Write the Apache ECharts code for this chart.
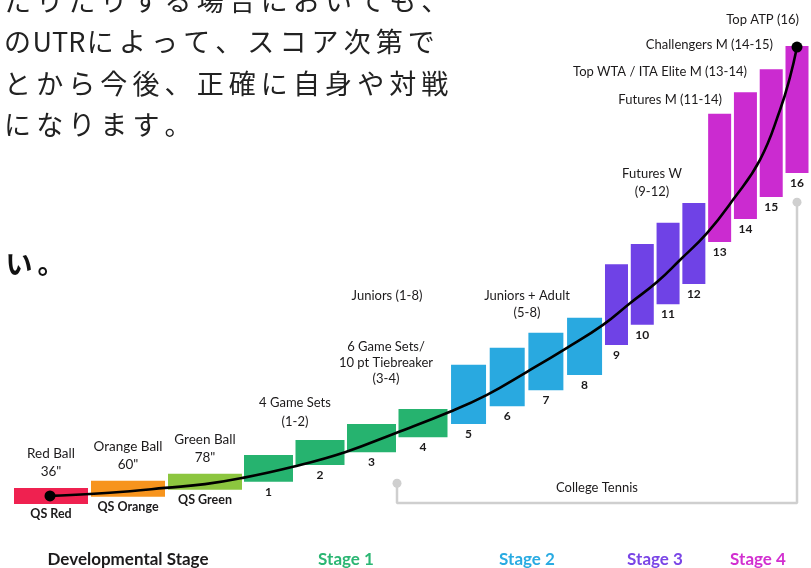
<!DOCTYPE html>
<html><head><meta charset="utf-8">
<script src="https://cdn.jsdelivr.net/npm/echarts@6/dist/echarts.min.js"></script>
<style>html,body{margin:0;padding:0;background:#fff}#c{width:811px;height:568px}</style>
</head><body><div id="c"></div>
<script>
// ---------- data ----------
const qsLevels = ['QS Red', 'QS Orange', 'QS Green'];
const qsBallNames = ['Red Ball\n36"', 'Orange Ball\n60"', 'Green Ball\n78"'];
const qsLow = [1.3, 2.8, 4.3];
const qsHigh = [4.7, 6.2, 7.7];

const stage1Levels = ['1', '2', '3', '4'];
const stage1Low = [6.0, 9.6, 12.3, 15.5];
const stage1High = [11.7, 14.9, 18.3, 21.5];

const stage2Levels = ['5', '6', '7', '8'];
const stage2Low = [18.3, 22.1, 25.5, 28.7];
const stage2High = [30.9, 34.5, 37.7, 40.9];

const stage34Levels = ['9', '10', '11', '12', '13', '14', '15', '16'];
const stage34Low = [35.1, 39.4, 43.8, 48.1, 57.0, 61.9, 66.6, 71.7];
const stage34High = [52.3, 56.6, 61.1, 65.3, 84.3, 88.9, 93.8, 98.7];

// progression curve (position along the strip, level)
const curvePos = [50, 90, 130, 165, 205, 242, 293, 345, 396, 450, 487, 527, 567, 603, 630, 657, 680, 707, 733, 760, 780, 790, 797];
const curveLevel = [3.0, 3.4, 4.0, 4.7, 5.5, 6.8, 9.2, 12.3, 16.4, 20.9, 24.5, 29.4, 34.5, 39.4, 44.0, 48.5, 53.2, 58.9, 66.0, 74.5, 85.1, 92.1, 98.5];

// college tennis bracket
const collegePos = [397, 397, 797, 797];
const collegeLevel = [5.7, 1.5, 1.5, 65.5];

const stageNames = ['Developmental Stage', 'Stage 1', 'Stage 2', 'Stage 3', 'Stage 4'];

const jpLines = [
  ['た','り','た','り','す','る','場','合','に','お','い','て','も','、'],
  ['の','UTR','に','よ','っ','て','、','ス','コ','ア','次','第','で'],
  ['と','か','ら','今','後','、','正','確','に','自','身','や','対','戦'],
  ['に','な','り','ま','す','。']
];
const jpBold = ['い','。'];

// ---------- styles / layout ----------
const C = {
  red: '#ef2150', orange: '#f7941d', green: '#8cc63f',
  s1: '#26b36f', s2: '#29a9e0', s3: '#6f42e6', s4: '#cb2bd0',
  ink: '#1c1a1b', grey: '#cfcfcf'
};
const LAT = 'Lato, "Open Sans", sans-serif';
const JP = '"Noto Sans CJK JP", sans-serif';

function grid(left, width) { return { left: left, width: width, top: 40, bottom: 58 }; }
const grids = [grid(12.5, 231), grid(242.75, 206), grid(449.2, 154.7), grid(603.6, 206.3), { left: 0, right: 0, top: 40, bottom: 58 }];
const groups = [
  { cats: qsLevels, low: qsLow, high: qsHigh, w: 74, color: (i) => [C.red, C.orange, C.green][i] },
  { cats: stage1Levels, low: stage1Low, high: stage1High, w: 49, color: () => C.s1 },
  { cats: stage2Levels, low: stage2Low, high: stage2High, w: 35, color: () => C.s2 },
  { cats: stage34Levels, low: stage34Low, high: stage34High, w: 23, color: (i) => i < 4 ? C.s3 : C.s4 }
];

const xAxes = groups.map((g, i) => ({ type: 'category', gridIndex: i, data: g.cats, show: false }));
xAxes.push({ type: 'value', gridIndex: 4, min: 0, max: 811, show: false });
const yAxes = grids.map((g, i) => ({ type: 'value', gridIndex: i, min: 0, max: 100, show: false }));

const series = [];
groups.forEach((g, i) => {
  series.push({
    type: 'bar', xAxisIndex: i, yAxisIndex: i, stack: 'g' + i, barWidth: g.w, silent: true,
    data: g.low, itemStyle: { color: 'rgba(0,0,0,0)' }
  });
  series.push({
    type: 'bar', xAxisIndex: i, yAxisIndex: i, stack: 'g' + i, barWidth: g.w,
    data: g.high.map((h, k) => +(h - g.low[k]).toFixed(2)),
    itemStyle: { color: (p) => g.color(p.dataIndex) },
    label: { show: true, position: 'bottom', distance: 4, formatter: '{b}', color: C.ink,
      fontFamily: LAT, fontWeight: 'bold', fontSize: i === 0 ? 12.5 : 12 }
  });
});
series.push({
  type: 'scatter', xAxisIndex: 0, yAxisIndex: 0, symbolSize: 0, data: qsHigh,
  itemStyle: { opacity: 1 },
  label: { show: true, position: 'top', distance: 7, formatter: (p) => qsBallNames[p.dataIndex],
    color: C.ink, fontFamily: LAT, fontSize: 13.5, lineHeight: 18, align: 'center' }
});
series.push({
  type: 'line', xAxisIndex: 4, yAxisIndex: 4, z: 1, showSymbol: false, silent: true,
  data: collegePos.map((x, k) => [x, collegeLevel[k]]),
  lineStyle: { color: C.grey, width: 2.5 }
});
series.push({
  type: 'scatter', xAxisIndex: 4, yAxisIndex: 4, z: 1, symbolSize: 9,
  data: [[collegePos[0], collegeLevel[0]], [collegePos[3], collegeLevel[3]]],
  itemStyle: { color: C.grey, opacity: 1 }
});
series.push({
  type: 'line', xAxisIndex: 4, yAxisIndex: 4, z: 5, showSymbol: false, smooth: 0.45, silent: true,
  data: curvePos.map((x, k) => [x, curveLevel[k]]),
  lineStyle: { color: '#000', width: 2.6 }
});
series.push({
  type: 'scatter', xAxisIndex: 4, yAxisIndex: 4, z: 6, symbolSize: 11,
  data: [[curvePos[0], curveLevel[0]], [curvePos[curvePos.length - 1], curveLevel[curveLevel.length - 1]]],
  itemStyle: { color: '#000', opacity: 1 }
});

// ---------- text annotations ----------
const graphic = [];
function txt(text, x, y, opt) {
  opt = opt || {};
  graphic.push({ type: 'text', x: x, y: y, z: 10, silent: true, style: Object.assign({
    text: text, fill: C.ink, font: '13px ' + LAT, align: 'center', verticalAlign: 'middle', lineHeight: 18
  }, opt) });
}
txt('4 Game Sets\n(1-2)', 295, 412, { lineHeight: 19 });
txt('6 Game Sets/\n10 pt Tiebreaker\n(3-4)', 386, 363, { lineHeight: 16 });
txt('Juniors (1-8)', 387, 296);
txt('Juniors + Adult\n(5-8)', 527, 304.5, { lineHeight: 17 });
txt('Futures W\n(9-12)', 652, 183, { lineHeight: 18 });
txt('Futures M (11-14)', 722, 100, { align: 'right' });
txt('Top WTA / ITA Elite M (13-14)', 747, 72, { align: 'right' });
txt('Challengers M (14-15)', 773, 45, { align: 'right' });
txt('Top ATP (16)', 799, 20, { align: 'right' });
txt('College Tennis', 597, 488);

const stageX = [128, 346, 527, 655, 758];
const stageColor = [C.ink, '#2bb673', '#29abe2', '#7a45e6', '#d22fd0'];
stageNames.forEach((s, i) => txt(s, stageX[i], 560, { font: 'bold 17px ' + LAT, fill: stageColor[i] }));

// Japanese paragraph (cropped)
const pitch = 32.1;
const jpY = [0.5, 42, 83.5, 125];
jpLines.forEach((line, li) => {
  let cur = 1.5;
  line.forEach((ch) => {
    const w = ch.length > 1 ? 1.58 : 1;
    txt(ch, cur + w * pitch / 2, jpY[li], { font: '27px ' + JP, fill: '#222', lineHeight: 30 });
    cur += w * pitch;
  });
});
jpBold.forEach((ch, k) => txt(ch, 19 + k * pitch, 264, { font: 'bold 27px ' + JP, fill: '#111', lineHeight: 30 }));

const chart = echarts.init(document.getElementById('c'), null, { renderer: 'canvas' });
chart.setOption({
  animation: false,
  backgroundColor: '#fff',
  grid: grids, xAxis: xAxes, yAxis: yAxes, series: series, graphic: graphic
});
</script></body></html>
